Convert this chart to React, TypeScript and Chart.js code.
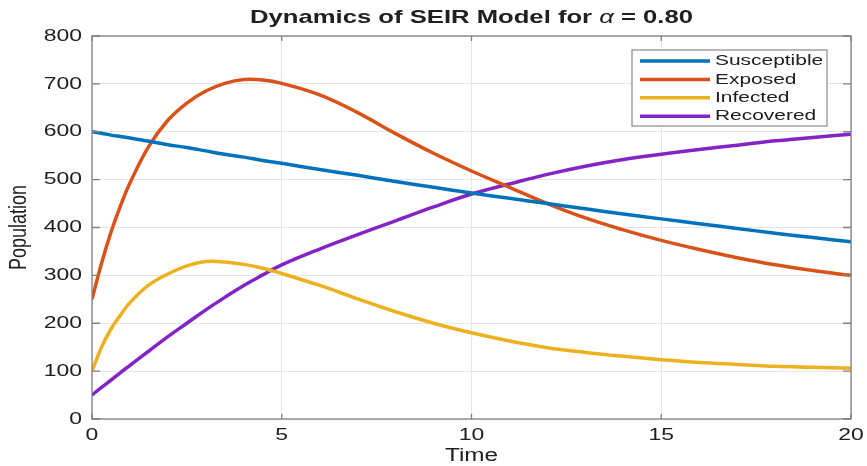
import React, { useEffect, useRef } from "react";
import { Chart, registerables } from "chart.js";
Chart.register(...registerables);

const times = [0, 0.25, 0.5, 0.75, 1, 1.5, 2, 2.5, 3, 3.5, 4, 4.5, 5, 6, 7, 8, 9, 10, 11, 12, 13, 14, 15, 16, 17, 18, 19, 20];
const susceptible = [600, 597, 593, 590, 587, 580, 573, 567, 560, 553, 547, 540, 534, 521, 509, 496, 484, 472, 461, 450, 439, 428, 418, 408, 398, 388, 379, 370];
const exposed = [250, 325, 390, 445, 493, 570, 624, 660, 685, 701, 709, 708, 701, 677, 640, 596, 555, 518, 484, 450, 420, 395, 373, 354, 337, 322, 310, 300];
const infected = [100, 150, 188, 217, 243, 280, 303, 320, 329, 328, 323, 315, 304, 279, 251, 224, 200, 180, 163, 149, 139, 131, 124, 118, 114, 110, 108, 106];
const recovered = [50, 66, 81, 97, 112, 142, 172, 200, 228, 254, 279, 301, 322, 355, 385, 414, 443, 470, 491, 511, 528, 542, 553, 563, 572, 581, 588, 595];

const seriesNames = ["Susceptible", "Exposed", "Infected", "Recovered"];
const seriesColors = ["#0072BD", "#D95319", "#EDB120", "#8224C8"];
const xTicks = [0, 5, 10, 15, 20];
const yTicks = [0, 100, 200, 300, 400, 500, 600, 700, 800];

const FONT = '"Liberation Sans", Arial, sans-serif';
const TEXT = "#202020";
const SX = 1.35;

function stretchedText(ctx: CanvasRenderingContext2D, text: string, x: number, y: number, align: CanvasTextAlign) {
  ctx.save();
  ctx.translate(x, y);
  ctx.scale(SX, 1);
  ctx.textAlign = align;
  ctx.textBaseline = "middle";
  ctx.fillText(text, 0, 0);
  ctx.restore();
}

const decorPlugin = {
  id: "decor",
  afterDraw(chart: any) {
    const ctx: CanvasRenderingContext2D = chart.ctx;
    const a = chart.chartArea;
    const xs = chart.scales.x;
    const ys = chart.scales.y;
    ctx.save();
    // box
    ctx.strokeStyle = "#808080";
    ctx.lineWidth = 1.3;
    ctx.strokeRect(a.left, a.top, a.right - a.left, a.bottom - a.top);
    // inner ticks
    ctx.beginPath();
    xTicks.forEach((t) => {
      const px = xs.getPixelForValue(t);
      ctx.moveTo(px, a.bottom);
      ctx.lineTo(px, a.bottom - 5);
      ctx.moveTo(px, a.top);
      ctx.lineTo(px, a.top + 5);
    });
    yTicks.forEach((t) => {
      const py = ys.getPixelForValue(t);
      ctx.moveTo(a.left, py);
      ctx.lineTo(a.left + 8, py);
      ctx.moveTo(a.right, py);
      ctx.lineTo(a.right - 8, py);
    });
    ctx.stroke();

    // tick labels
    ctx.fillStyle = TEXT;
    ctx.font = `17px ${FONT}`;
    yTicks.forEach((t) => {
      stretchedText(ctx, String(t), a.left - 10, ys.getPixelForValue(t), "right");
    });
    xTicks.forEach((t) => {
      stretchedText(ctx, String(t), xs.getPixelForValue(t), a.bottom + 16, "center");
    });

    // axis titles
    ctx.font = `18px ${FONT}`;
    stretchedText(ctx, "Time", (a.left + a.right) / 2, 456, "center");
    ctx.save();
    ctx.translate(19, (a.top + a.bottom) / 2);
    ctx.rotate(-Math.PI / 2);
    ctx.scale(1, SX);
    ctx.textAlign = "center";
    ctx.textBaseline = "middle";
    ctx.fillText("Population", 0, 0);
    ctx.restore();

    // title with italic alpha
    const parts = [
      { t: "Dynamics of SEIR Model for ", f: `bold 19px ${FONT}` },
      { t: "\u03B1", f: `italic 19px ${FONT}` },
      { t: " = 0.80", f: `bold 19px ${FONT}` },
    ];
    let total = 0;
    parts.forEach((p) => {
      ctx.font = p.f;
      total += ctx.measureText(p.t).width;
    });
    ctx.save();
    ctx.translate((a.left + a.right) / 2, 18);
    ctx.scale(SX, 1);
    ctx.textBaseline = "middle";
    ctx.textAlign = "left";
    let cx = -total / 2;
    parts.forEach((p) => {
      ctx.font = p.f;
      ctx.fillText(p.t, cx, 0);
      cx += ctx.measureText(p.t).width;
    });
    ctx.restore();

    // legend
    const lx = 632, ly = 50, lw = 195, lh = 76;
    ctx.fillStyle = "#ffffff";
    ctx.fillRect(lx, ly, lw, lh);
    ctx.strokeStyle = "#8a8a8a";
    ctx.lineWidth = 1.2;
    ctx.strokeRect(lx, ly, lw, lh);
    ctx.font = `15.5px ${FONT}`;
    seriesNames.forEach((name, i) => {
      const yy = ly + 11 + i * 18.4;
      ctx.strokeStyle = seriesColors[i];
      ctx.lineWidth = 3.5;
      ctx.beginPath();
      ctx.moveTo(640, yy);
      ctx.lineTo(710, yy);
      ctx.stroke();
      ctx.fillStyle = TEXT;
      stretchedText(ctx, name, 715, yy, "left");
    });
    ctx.restore();
  },
};

export default function App() {
  const ref = useRef<HTMLCanvasElement | null>(null);
  useEffect(() => {
    if (!ref.current) return;
    const seriesData = [susceptible, exposed, infected, recovered];
    const chart = new Chart(ref.current, {
      type: "line",
      data: {
        datasets: seriesData.map((vals, i) => ({
          label: seriesNames[i],
          data: times.map((t, j) => ({ x: t, y: vals[j] })),
          borderColor: seriesColors[i],
          backgroundColor: seriesColors[i],
          borderWidth: 3.5,
          pointRadius: 0,
          tension: 0.4,
          fill: false,
        })),
      },
      options: {
        responsive: false,
        animation: false,
        devicePixelRatio: 1,
        layout: { padding: { left: 0, right: 16, top: 36, bottom: 0 } },
        plugins: { legend: { display: false }, title: { display: false }, tooltip: { enabled: false } },
        scales: {
          x: {
            type: "linear",
            min: 0,
            max: 20,
            ticks: { display: false, stepSize: 5 },
            grid: { color: "#e6e6e6", drawTicks: false },
            border: { display: false },
            afterFit: (s: any) => { s.height = 47; },
          },
          y: {
            type: "linear",
            min: 0,
            max: 800,
            ticks: { display: false, stepSize: 100 },
            grid: { color: "#e6e6e6", drawTicks: false },
            border: { display: false },
            afterFit: (s: any) => { s.width = 92; },
          },
        },
      },
      plugins: [decorPlugin],
    });
    return () => chart.destroy();
  }, []);
  return (
    <div style={{ position: "fixed", left: 0, top: 0, width: 867, height: 466, background: "#fff" }}>
      <canvas ref={ref} width={867} height={466} />
    </div>
  );
}
